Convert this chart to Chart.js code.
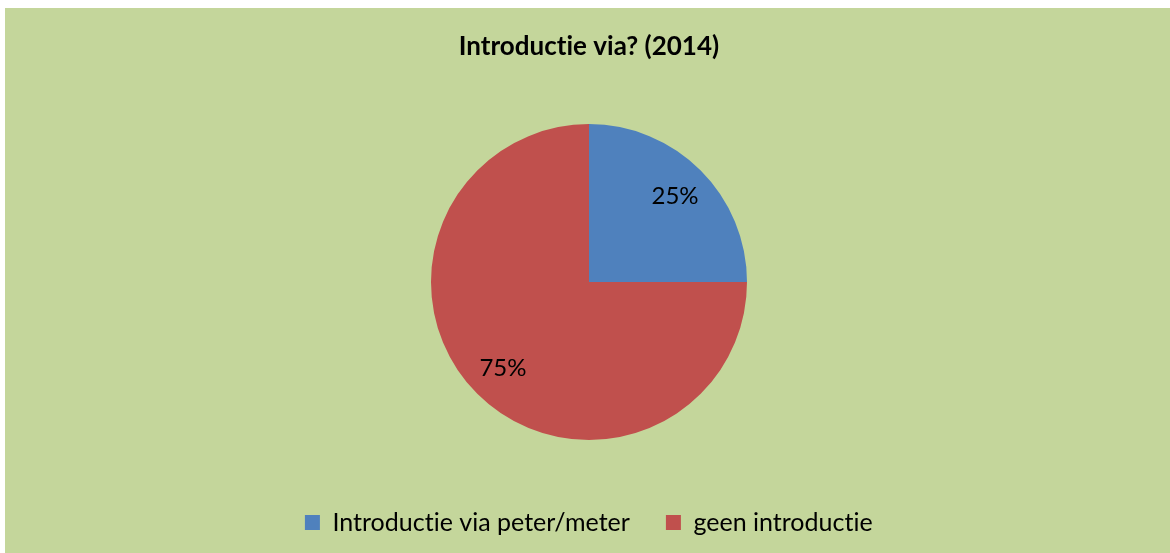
<!DOCTYPE html>
<html>
<head>
<meta charset="utf-8">
<script src="https://cdn.jsdelivr.net/npm/chart.js@4.4.1/dist/chart.umd.min.js"></script>
<style>
  html, body { margin: 0; padding: 0; background: #fff; }
  #wrap { position: absolute; left: 5px; top: 8px; width: 1165px; height: 545px; background: #C4D69B; }
</style>
</head>
<body>
<div id="wrap"><canvas id="pie" width="1165" height="545"></canvas></div>
<script>
const categories = ['Introductie via peter/meter', 'geen introductie'];
const shares = [25, 75];
const sliceColors = ['#4F81BD', '#C0504D'];
const titleText = 'Introductie via? (2014)';

// tiny letter spacing switches off the Lato "ti" ligature
const noLigatures = {
  id: 'noLigatures',
  beforeDraw(chart) {
    chart.ctx.letterSpacing = '0.01px';
  }
};

// percentage labels, placed along each slice's middle angle
const sliceLabels = {
  id: 'sliceLabels',
  afterDatasetsDraw(chart) {
    const ctx = chart.ctx;
    const meta = chart.getDatasetMeta(0);
    ctx.save();
    ctx.font = '24px Lato';
    ctx.fillStyle = '#000';
    ctx.textAlign = 'center';
    ctx.textBaseline = 'middle';
    meta.data.forEach((arc, i) => {
      const p = arc.getProps(['x', 'y', 'startAngle', 'endAngle', 'outerRadius'], true);
      const mid = (p.startAngle + p.endAngle) / 2;
      const r = p.outerRadius * 0.77;
      ctx.fillText(shares[i] + '%', p.x + Math.cos(mid) * r, p.y + Math.sin(mid) * r);
    });
    ctx.restore();
  }
};

new Chart(document.getElementById('pie'), {
  type: 'pie',
  data: {
    labels: categories,
    datasets: [{
      data: shares,
      backgroundColor: sliceColors,
      borderWidth: 0
    }]
  },
  options: {
    responsive: false,
    animation: false,
    radius: 158,
    layout: { padding: { left: 3, bottom: 8 } },
    plugins: {
      tooltip: { enabled: false },
      title: {
        display: true,
        text: titleText,
        color: '#000',
        font: { family: 'Lato', size: 26, weight: 'bold', lineHeight: 1.2 },
        padding: { top: 23, bottom: 28 }
      },
      legend: {
        position: 'bottom',
        labels: {
          color: '#000',
          font: { family: 'Lato', size: 25 },
          boxWidth: 15,
          boxHeight: 15,
          padding: 36
        }
      }
    }
  },
  plugins: [noLigatures, sliceLabels]
});
</script>
</body>
</html>
